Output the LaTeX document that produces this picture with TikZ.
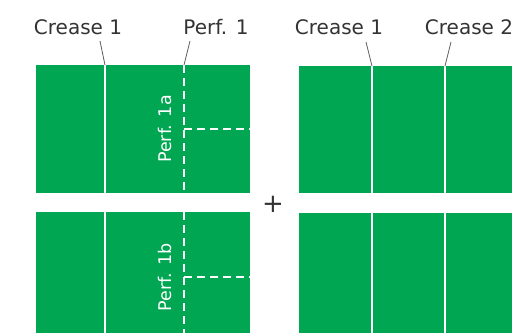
\documentclass[tikz,border=0pt]{standalone}
\usepackage{fontspec}
\setmainfont{DejaVu Sans}
\definecolor{sheet}{HTML}{00A651}
\definecolor{ink}{HTML}{333333}
\tikzset{
  sheet/.style={fill=sheet,draw=none},
  crease/.style={white,line width=1.6pt},
  perf/.style={white,line width=2.2pt,dash pattern=on 8pt off 5pt},
  lbl/.style={text=ink,font=\fontsize{20}{24}\selectfont,inner sep=0pt},
  side/.style={text=white,rotate=90,font=\fontsize{17.5}{20}\selectfont,inner sep=0pt},
  leader/.style={ink!80,line width=0.8pt}
}
\begin{document}
\begin{tikzpicture}[x=1pt,y=-1pt]
    \useasboundingbox (0,0) rectangle (531,333);

    % left sheets
    \fill[sheet] (36,65) rectangle (250,193);
    \fill[sheet] (36,212) rectangle (250,333);
    % right sheets
    \fill[sheet] (299,66) rectangle (512,193);
    \fill[sheet] (299,213) rectangle (512,333);

    \coordinate (c1t) at (105,65);
    \coordinate (c1b) at (105,193);
    \coordinate (c1u) at (105,212);
    \coordinate (c1d) at (105,333);
    \coordinate (p1t) at (184,65);
    \coordinate (p1b) at (184,193);
    \coordinate (p1u) at (184,212);
    \coordinate (p1d) at (184,333);
    \coordinate (pat) at (184,129);
    \coordinate (pae) at (250,129);
    \coordinate (pbt) at (184,277);
    \coordinate (pbe) at (250,277);

    \coordinate (r1t) at (372,66);
    \coordinate (r1b) at (372,193);
    \coordinate (r1u) at (372,213);
    \coordinate (r1d) at (372,333);
    \coordinate (r2t) at (445,66);
    \coordinate (r2b) at (445,193);
    \coordinate (r2u) at (445,213);
    \coordinate (r2d) at (445,333);

    \draw[crease] (c1t)--(c1b);
    \draw[crease] (c1u)--(c1d);
    \draw[perf] (p1t)--(p1b);
    \draw[perf] (p1u)--(p1d);
    \draw[perf] (pat)--(pae);
    \draw[perf] (pbt)--(pbe);
    \draw[crease] (r1t)--(r1b);
    \draw[crease] (r1u)--(r1d);
    \draw[crease] (r2t)--(r2b);
    \draw[crease] (r2u)--(r2d);

    \node[lbl] (crease) at (78,27) {Crease 1};
    \node[lbl] (perf) at (216,27) {Perf. 1};
    \node[lbl] (crease1) at (339,27) {Crease 1};
    \node[lbl] (crease2) at (469,27) {Crease 2};
    \node[side] (perfa) at (165,129) {Perf. 1a};
    \node[side] (perfb) at (165,277) {Perf. 1b};
    \node[lbl,font=\fontsize{26}{26}\selectfont] (plus) at (273,204) {+};

    \draw[leader] (100,41)--(c1t);
    \draw[leader] (190,41)--(p1t);
    \draw[leader] (366,42)--(r1t);
    \draw[leader] (451,42)--(r2t);
  \end{tikzpicture}
\end{document}
